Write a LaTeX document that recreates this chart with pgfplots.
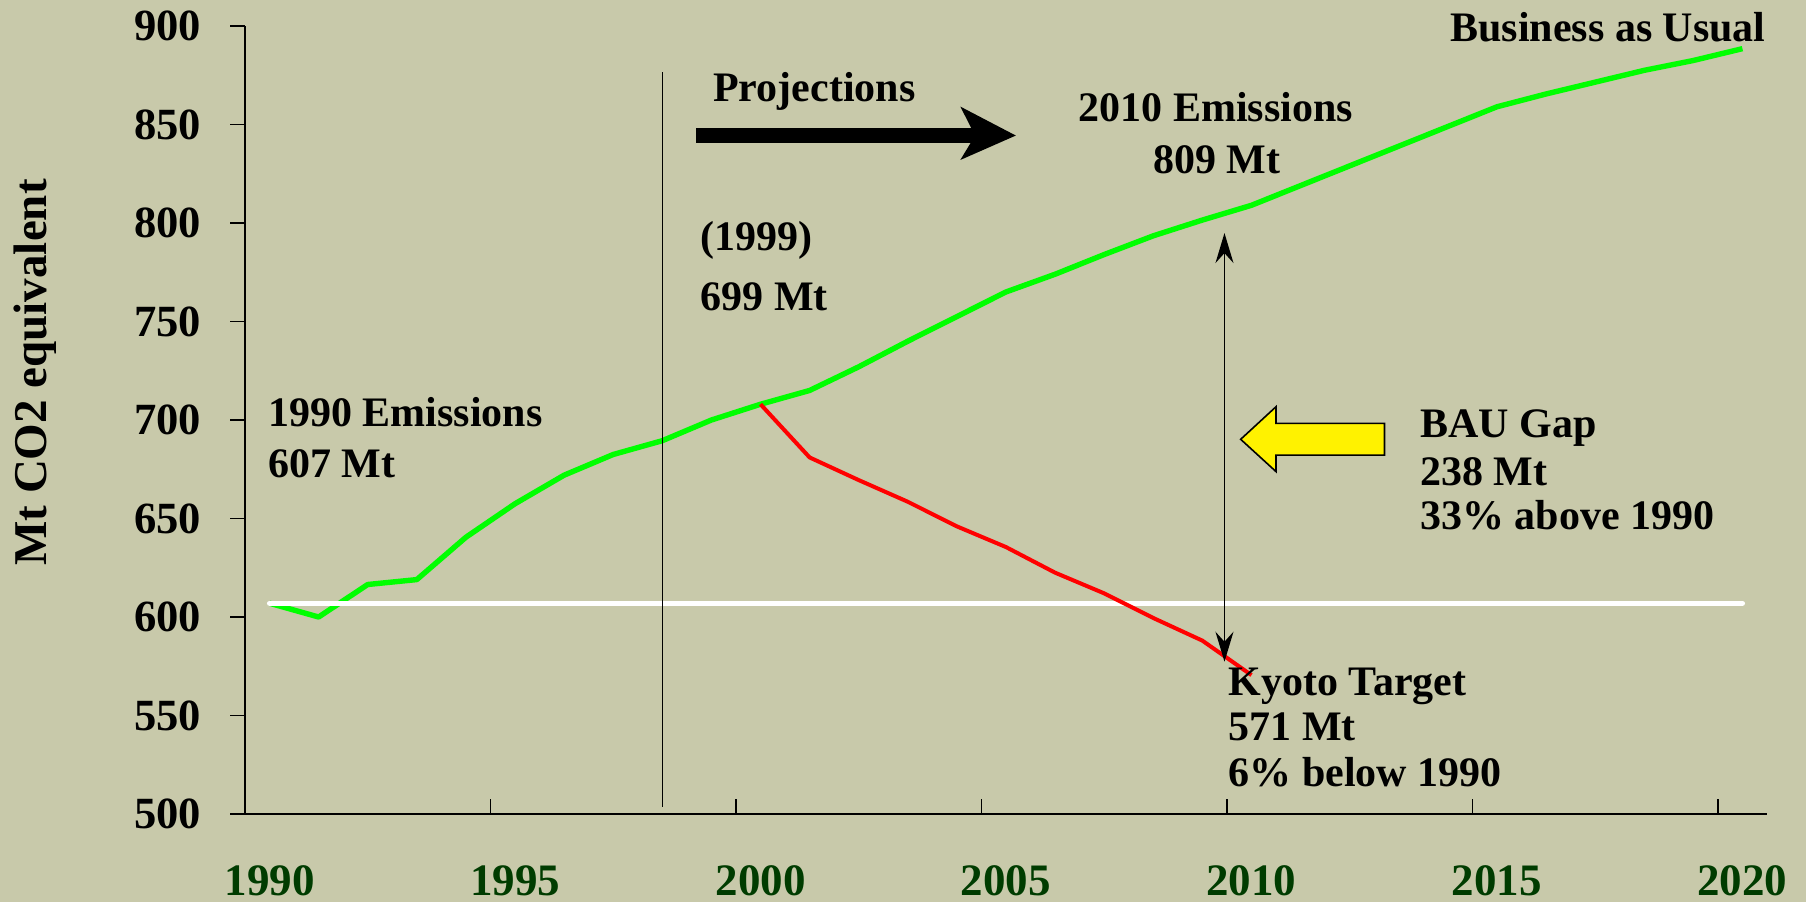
\documentclass[border=0pt]{standalone}
\usepackage{pgfplots}
\pgfplotsset{compat=1.18}
\usetikzlibrary{arrows.meta}
\usepackage{fontspec}
\setmainfont{Liberation Serif}
\definecolor{bgc}{RGB}{200,201,170}
\definecolor{tickgreen}{RGB}{0,60,0}
\definecolor{bau}{RGB}{0,255,0}
\begin{document}
\begin{tikzpicture}[ann/.style={inner sep=0pt, font=\fontsize{21}{25}\selectfont\bfseries}]
\fill[bgc] (-122.5pt,-44pt) rectangle (780.5pt,407pt);
\begin{axis}[
  scale only axis, width=761pt, height=394pt,
  xmin=1989.5, xmax=2020.5, ymin=500, ymax=900,
  axis x line*=bottom, axis y line*=left,
  axis line style={-, line width=0.7pt, black},
  xtick={1989.5,1994.5,...,2019.5},
  xticklabels={1990,1995,2000,2005,2010,2015,2020},
  ytick={500,550,...,900},
  xtick align=inside, ytick align=outside,
  major tick length=7.5pt,
  tick style={black, line width=0.7pt},
  xticklabel style={font=\fontsize{22.5}{26}\selectfont\bfseries, text=tickgreen, xshift=12.27pt, yshift=-22.4pt},
  yticklabel style={font=\fontsize{22.3}{26}\selectfont\bfseries, text=black, xshift=-11pt},
  /pgf/number format/assume math mode=true,
  clip=false,
  every axis plot/.append style={line join=round},
]
% Business as usual
\addplot[bau, line width=2.7pt] coordinates {
(1990,607) (1991,600) (1992,616.5) (1993,619) (1994,640.5) (1995,657.5)
(1996,672) (1997,682.5) (1998,689.5) (1999,700) (2000,708) (2001,715)
(2002,727) (2003,740) (2004,752.5) (2005,765) (2006,774) (2007,784)
(2008,793.5) (2009,801.5) (2010,809) (2011,819) (2012,829) (2013,839)
(2014,849) (2015,859) (2016,865.5) (2017,871.5) (2018,877.5) (2019,882.5)
(2020,888.5)};
% 1990 level
\addplot[white, line width=2.6pt, line cap=round] coordinates {(1990,607) (2020,607)};
% Kyoto path
\addplot[red, line width=2pt] coordinates {
(2000,708) (2001,681) (2002,669.5) (2003,658.5) (2004,646) (2005,635.5)
(2006,622.5) (2007,612) (2008,599.5) (2009,588) (2010,570.5)};
% projections divider
\addplot[black, line width=0.6pt] coordinates {(1998,503.7) (1998,876.8)};
% gap arrow
\draw[black, line width=0.7pt, {Stealth[length=15pt,width=9pt,inset=5pt]}-{Stealth[length=15pt,width=9pt,inset=5pt]}]
  (axis cs:2009.45,577.3) -- (axis cs:2009.45,794.9);
% projections arrow
\fill[black] (axis cs:1998.69,848.4) rectangle (axis cs:2004.38,840.5);
\fill[black] (axis cs:2004.07,859.1) -- (axis cs:2005.20,844.4) -- (axis cs:2004.07,832.0) -- (axis cs:2004.37,844.4) -- cycle;
% yellow arrow
\filldraw[fill=yellow, draw=black, line width=0.8pt, line join=miter]
  (axis cs:2009.78,690.2) -- (axis cs:2010.50,706.75) -- (axis cs:2010.50,698.3) -- (axis cs:2012.71,698.3)
  -- (axis cs:2012.71,682.2) -- (axis cs:2010.50,682.2) -- (axis cs:2010.50,673.8) -- cycle;
% texts
\node[ann, anchor=base west] at (axis cs:1989.97,696.95) {1990 Emissions};
\node[ann, anchor=base west] at (axis cs:1989.97,670.6) {607 Mt};
\node[ann, anchor=base west] at (axis cs:1998.77,786.3) {(1999)};
\node[ann, anchor=base west] at (axis cs:1998.77,755.8) {699 Mt};
\node[ann, anchor=base west] at (axis cs:1999.03,861.6) {Projections};
\node[ann, anchor=base] at (axis cs:2009.27,851.4) {2010 Emissions};
\node[ann, anchor=base] at (axis cs:2009.29,824.9) {809 Mt};
\node[ann, anchor=base east] at (axis cs:2020.48,892.0) {Business as Usual};
\node[ann, anchor=base west] at (axis cs:2013.43,690.9) {BAU Gap};
\node[ann, anchor=base west] at (axis cs:2013.43,667.0) {238 Mt};
\node[ann, anchor=base west] at (axis cs:2013.43,644.2) {33\% above 1990};
\node[ann, anchor=base west] at (axis cs:2009.53,560.4) {Kyoto Target};
\node[ann, anchor=base west] at (axis cs:2009.53,537.2) {571 Mt};
\node[ann, anchor=base west] at (axis cs:2009.53,513.9) {6\% below 1990};
\node[rotate=90, anchor=base, inner sep=0pt, font=\fontsize{23.5}{28}\selectfont\bfseries] at (axis cs:1985.46,724.1) {Mt CO2 equivalent};
\end{axis}
\pgfresetboundingbox
\useasboundingbox (-122.5pt,-44pt) rectangle (780.5pt,407pt);
\end{tikzpicture}
\end{document}
